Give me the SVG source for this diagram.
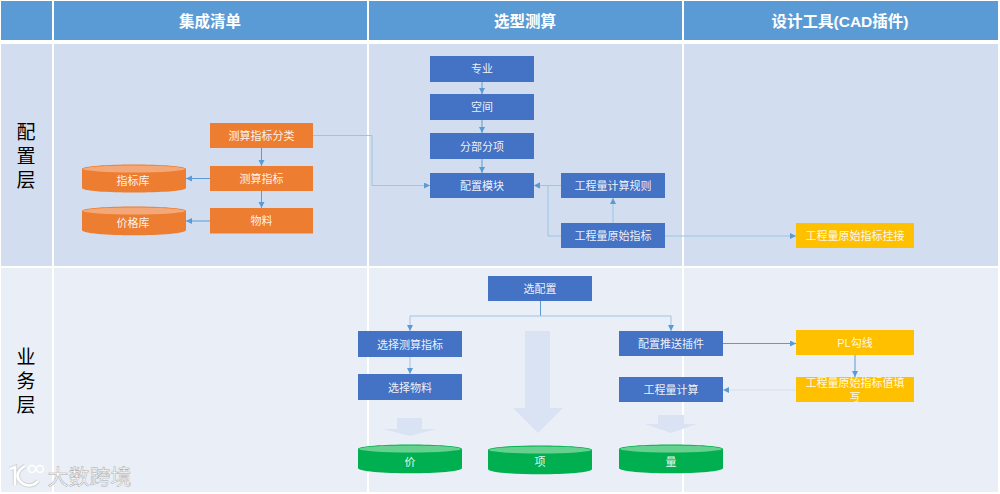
<svg xmlns="http://www.w3.org/2000/svg" width="1000" height="494" viewBox="0 0 1000 494">
<style>
text{font-family:"Liberation Sans","Noto Sans CJK SC",sans-serif;text-anchor:middle}
.hd{fill:#5b9bd5}.r1{fill:#d2deef}.r2{fill:#eaeff7}
.ht{fill:#fff;font-size:15.500px;font-weight:700}
.side{fill:#000;font-size:19px}
.t{fill:#fff;font-size:11px;fill-opacity:.92}
.o{fill:#ed7d31}.b{fill:#4472c4}.y{fill:#ffc000}.g{fill:#00b050}
.ot{fill:#f4a877}.gt{fill:#66d08f}
.c{fill:none;stroke:#5b9bd5;stroke-width:1;marker-end:url(#a)}
.c2{fill:none;stroke:#9dc3e6;stroke-width:1;marker-end:url(#a)}
.c3{fill:none;stroke:#5b9bd5;stroke-width:1}
.bg{fill:#dae3f3}
</style>
<defs>
<marker id="a" markerUnits="userSpaceOnUse" markerWidth="7" markerHeight="7" refX="6" refY="3" orient="auto"><path d="M0 0L6 3L0 6Z" fill="#5b9bd5"/></marker>
</defs>
<rect width="1000" height="494" fill="#fff"/>
<g id="lanes">
<rect class="hd" x="1" y="1" width="51" height="39"/>
<rect class="hd" x="54" y="1" width="313" height="39"/>
<rect class="hd" x="369" y="1" width="313" height="39"/>
<rect class="hd" x="684" y="1" width="314" height="39"/>
<rect class="r1" x="1" y="44" width="51" height="222"/>
<rect class="r1" x="54" y="44" width="313" height="222"/>
<rect class="r1" x="369" y="44" width="313" height="222"/>
<rect class="r1" x="684" y="44" width="314" height="222"/>
<rect class="r2" x="1" y="268" width="51" height="224"/>
<rect class="r2" x="54" y="268" width="313" height="224"/>
<rect class="r2" x="369" y="268" width="313" height="224"/>
<rect class="r2" x="684" y="268" width="314" height="224"/>
<text class="ht" x="210" y="27">集成清单</text>
<text class="ht" x="525" y="27">选型测算</text>
<text class="ht" x="840" y="27">设计工具(CAD插件)</text>
<text class="side" x="26" y="139">配</text>
<text class="side" x="26" y="163">置</text>
<text class="side" x="26" y="187">层</text>
<text class="side" x="26" y="364">业</text>
<text class="side" x="26" y="388">务</text>
<text class="side" x="26" y="412">层</text>
</g>
<g id="flow-arrows">
<path class="bg" d="M397 418H422V429H437L410 436L383 429H397Z"/>
<path class="bg" d="M525 331H550V408H563L538 433L513 408H525Z"/>
<path class="bg" d="M658 415H684V424H697L671 433L645 424H658Z"/>
</g>
<g id="connectors">
<path class="c2" d="M313 135.500H372V185.500H430"/>
<path class="c" d="M261.500 148V166"/>
<path class="c" d="M261.500 191V208"/>
<path class="c" d="M210 178.500H186"/>
<path class="c" d="M210 221H186"/>
<path class="c" d="M482 82V94"/>
<path class="c" d="M482 120V133"/>
<path class="c" d="M482 159V173"/>
<path class="c2" d="M561 185.500H534"/>
<path class="c2" d="M561 236H548V185.500H534"/>
<path class="c2" d="M613 223V198"/>
<path class="c2" d="M665 236H796"/>
<path class="c3" d="M540.500 301V316"/>
<path class="c2" d="M540.500 316H410V331"/>
<path class="c2" d="M540.500 316H671V331"/>
<path class="c2" d="M410 357V374"/>
<path class="c" d="M723 343.500H796"/>
<path class="c" d="M855 355V377"/>
<path class="c2" d="M796 390H723" style="stroke:#d2deef"/>
</g>
<g id="n-csfl"><rect class="o" x="210" y="123" width="103" height="25"/><text class="t" x="261.500" y="140">测算指标分类</text></g>
<g id="n-cszb"><rect class="o" x="210" y="166" width="103" height="25"/><text class="t" x="261.500" y="183">测算指标</text></g>
<g id="n-wl"><rect class="o" x="210" y="208" width="103" height="25.500"/><text class="t" x="261.500" y="225">物料</text></g>
<g id="n-zbk"><path class="o" d="M82 169C82 163 186 163 186 169V188C186 194 82 194 82 188Z"/><ellipse class="ot" cx="134" cy="169" rx="51" ry="3.500"/><text class="t" x="133" y="185">指标库</text></g>
<g id="n-jgk"><path class="o" d="M82 211C82 205 186 205 186 211V230C186 237 82 237 82 230Z"/><ellipse class="ot" cx="134" cy="211" rx="51" ry="3.500"/><text class="t" x="133" y="227">价格库</text></g>
<g id="n-zy"><rect class="b" x="430" y="56" width="104" height="26"/><text class="t" x="482" y="73">专业</text></g>
<g id="n-kj"><rect class="b" x="430" y="94" width="104" height="26"/><text class="t" x="482" y="111">空间</text></g>
<g id="n-fb"><rect class="b" x="430" y="133" width="104" height="26"/><text class="t" x="482" y="151">分部分项</text></g>
<g id="n-pz"><rect class="b" x="430" y="173" width="104" height="25"/><text class="t" x="482" y="190">配置模块</text></g>
<g id="n-gz"><rect class="b" x="561" y="173" width="104" height="25"/><text class="t" x="613" y="190">工程量计算规则</text></g>
<g id="n-ys"><rect class="b" x="561" y="223" width="104" height="25"/><text class="t" x="613" y="240">工程量原始指标</text></g>
<g id="n-gj"><rect class="y" x="796" y="223" width="118" height="25"/><text class="t" x="855" y="240">工程量原始指标挂接</text></g>
<g id="n-xpz"><rect class="b" x="488" y="276" width="104" height="25"/><text class="t" x="540" y="293">选配置</text></g>
<g id="n-xcs"><rect class="b" x="358" y="331" width="104" height="26"/><text class="t" x="410" y="349">选择测算指标</text></g>
<g id="n-xwl"><rect class="b" x="358" y="374" width="104" height="26"/><text class="t" x="410" y="392">选择物料</text></g>
<g id="n-ts"><rect class="b" x="619" y="331" width="104" height="25"/><text class="t" x="671" y="348">配置推送插件</text></g>
<g id="n-gcl"><rect class="b" x="619" y="377" width="104" height="25"/><text class="t" x="671" y="394">工程量计算</text></g>
<g id="n-pl"><rect class="y" x="796" y="330" width="118" height="25"/><text class="t" x="855" y="347">PL勾线</text></g>
<g id="n-tx"><rect class="y" x="796" y="377" width="118" height="25"/><text class="t" x="855" y="387">工程量原始指标值填</text><text class="t" x="855" y="401">写</text></g>
<g id="n-j"><path class="g" d="M358 449C358 443 462 443 462 449V468C462 475 358 475 358 468Z"/><ellipse class="gt" cx="410" cy="449" rx="51" ry="3.500"/><text class="t" x="410" y="466">价</text></g>
<g id="n-x"><path class="g" d="M488 450C488 444 592 444 592 450V469C592 476 488 476 488 469Z"/><ellipse class="gt" cx="540" cy="450" rx="51" ry="3.500"/><text class="t" x="540" y="466">项</text></g>
<g id="n-l"><path class="g" d="M619 449C619 443 723 443 723 449V468C723 475 619 475 619 468Z"/><ellipse class="gt" cx="671" cy="449" rx="51" ry="3.500"/><text class="t" x="671" y="466">量</text></g>
<g id="watermark">
<path d="M10 469L15 467V485M25 466C18 470 16 475 19 480C24 487 33 487 38 481" fill="none" stroke="#bbb" stroke-width="4.500" opacity=".55"/>
<path d="M10 469L15 467V485M25 466C18 470 16 475 19 480C24 487 33 487 38 481" fill="none" stroke="#fff" stroke-width="2.500"/>
<circle cx="32" cy="469" r="3.500" fill="none" stroke="#fff" stroke-width="1.500"/>
<circle cx="40" cy="469" r="3.500" fill="none" stroke="#fff" stroke-width="1.500"/>
<text x="89.500" y="484" style="fill:#fff;font-size:21px;stroke:#aaa;stroke-width:.5">大数跨境</text>
</g>
</svg>
